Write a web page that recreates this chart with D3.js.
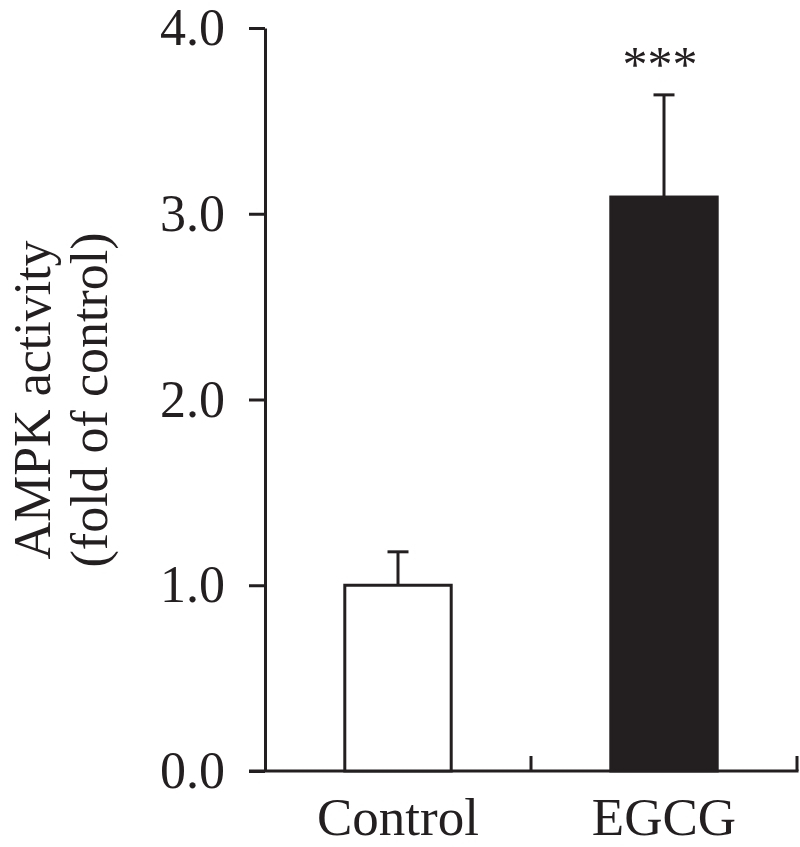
<!DOCTYPE html>
<html lang="en">
<head>
  <meta charset="UTF-8">
  <title>AMPK activity</title>
  <style>
    body { margin: 0; background: #fff; }
    text { font-family: "Liberation Serif", "Times New Roman", serif; fill: #231f20; }
  </style>
</head>
<body>
  <svg id="svg" width="800" height="847"></svg>

  <script src="https://d3js.org/d3.v7.min.js"></script>
  <script>
    const groups = ["Control", "EGCG"]
    const means = [1.0, 3.09]
    const errors = [0.18, 0.55]
    const fills = ["#ffffff", "#231f20"]
    const marks = ["", "***"]
    const yTicks = [0, 1, 2, 3, 4]

    const ink = "#231f20"
    const svg = d3.select("#svg")

    const xScale = d3.scaleBand()
      .domain(groups)
      .range([265, 797])
      .paddingInner(0.6)
      .paddingOuter(0.3)

    const yScale = d3.scaleLinear()
      .domain([0, 4])
      .range([771, 28])

    const data = groups.map((g, i) => ({ g, mean: means[i], err: errors[i], fill: fills[i], mark: marks[i] }))

    // y axis
    const yAxis = svg.append("g")
      .attr("transform", "translate(265,0)")
      .call(d3.axisLeft(yScale).tickValues(yTicks).tickFormat(d3.format(".1f")).tickSize(16).tickSizeOuter(0).tickPadding(24))
    yAxis.select(".domain").attr("stroke", ink).attr("stroke-width", 3)
    yAxis.selectAll(".tick line").attr("stroke", ink).attr("stroke-width", 3)
    yAxis.selectAll(".tick text")
      .attr("font-family", "Liberation Serif")
      .attr("font-size", 52)
      .attr("fill", ink)

    // x axis line with upward ticks at group boundaries
    const step = xScale.step()
    const bounds = groups.map(g => xScale(g) + xScale.bandwidth() + step * xScale.paddingInner() / 2)
    svg.append("line")
      .attr("x1", 249).attr("x2", bounds[bounds.length - 1] + 1.5)
      .attr("y1", yScale(0)).attr("y2", yScale(0))
      .attr("stroke", ink).attr("stroke-width", 3)
    svg.selectAll(".xtick")
      .data(bounds)
      .enter()
      .append("line")
      .attr("x1", d => d).attr("x2", d => d)
      .attr("y1", yScale(0)).attr("y2", yScale(0) - 15)
      .attr("stroke", ink).attr("stroke-width", 3)

    svg.selectAll(".xlabel")
      .data(groups)
      .enter()
      .append("text")
      .attr("x", d => xScale(d) + xScale.bandwidth() / 2)
      .attr("y", 835)
      .attr("text-anchor", "middle")
      .attr("font-size", 53)
      .text(d => d)

    // error bars (drawn first so bar covers lower half)
    const cap = 21
    svg.selectAll(".err")
      .data(data)
      .enter()
      .append("line")
      .attr("x1", d => xScale(d.g) + xScale.bandwidth() / 2)
      .attr("x2", d => xScale(d.g) + xScale.bandwidth() / 2)
      .attr("y1", d => yScale(d.mean))
      .attr("y2", d => yScale(d.mean + d.err))
      .attr("stroke", ink).attr("stroke-width", 3)
    svg.selectAll(".cap")
      .data(data)
      .enter()
      .append("line")
      .attr("x1", d => xScale(d.g) + xScale.bandwidth() / 2 - cap / 2)
      .attr("x2", d => xScale(d.g) + xScale.bandwidth() / 2 + cap / 2)
      .attr("y1", d => yScale(d.mean + d.err))
      .attr("y2", d => yScale(d.mean + d.err))
      .attr("stroke", ink).attr("stroke-width", 3)

    // bars
    svg.selectAll(".bar")
      .data(data)
      .enter()
      .append("rect")
      .attr("x", d => xScale(d.g))
      .attr("y", d => yScale(d.mean))
      .attr("width", xScale.bandwidth())
      .attr("height", d => yScale(0) - yScale(d.mean))
      .attr("fill", d => d.fill)
      .attr("stroke", ink)
      .attr("stroke-width", 3)

    // significance marks
    svg.selectAll(".mark")
      .data(data)
      .enter()
      .append("text")
      .attr("x", d => xScale(d.g) + xScale.bandwidth() / 2 - 4)
      .attr("y", d => yScale(d.mean + d.err) - 14)
      .attr("text-anchor", "middle")
      .attr("font-size", 50)
      .text(d => d.mark)

    // y axis title
    const title = svg.append("text")
      .attr("transform", "translate(50,400) rotate(-90)")
      .attr("text-anchor", "middle")
      .attr("font-size", 52)
    title.append("tspan").attr("x", 0).attr("dy", 0).text("AMPK activity")
    title.append("tspan").attr("x", 0).attr("dy", 57).text("(fold of control)")
  </script>
</body>
</html>
